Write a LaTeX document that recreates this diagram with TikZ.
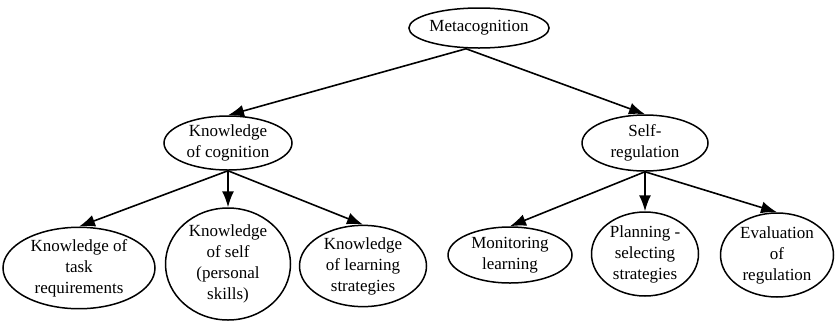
\documentclass[tikz,border=0pt]{standalone}
\usepackage{fontspec}
\setmainfont{Liberation Serif}
\usetikzlibrary{shapes.geometric,arrows.meta}
\begin{document}
\begin{tikzpicture}[x=1pt,y=-1pt,
  bubble/.style={ellipse,draw,line width=1.5pt,inner sep=0pt,align=center,
    font=\fontsize{17}{21}\selectfont},
  link/.style={line width=1.6pt,-{Latex[length=16pt,width=12pt]}}]
\useasboundingbox (0,0) rectangle (837,322);

% top level
\node[bubble,minimum width=134pt,minimum height=40pt] (meta) at (479,28) {Metacognition};

% second level
\node[bubble,minimum width=128pt,minimum height=54pt] (kc) at (228,143) {Knowledge\\of cognition};
\node[bubble,minimum width=126pt,minimum height=56pt] (sr) at (645,143) {Self-\\regulation};

% third level, knowledge branch
\node[bubble,minimum width=152pt,minimum height=80pt] (task) at (79,268) {Knowledge of\\task\\requirements};
\node[bubble,minimum width=125pt,minimum height=112pt] (self) at (228,264) {Knowledge\\of self\\(personal\\skills)};
\node[bubble,minimum width=127pt,minimum height=76pt] (learn) at (363,266) {Knowledge\\of learning\\strategies};

% third level, regulation branch
\node[bubble,minimum width=124pt,minimum height=56pt] (mon) at (510,255) {Monitoring\\learning};
\node[bubble,minimum width=107pt,minimum height=84pt] (plan) at (645,254) {Planning -\\selecting\\strategies};
\node[bubble,minimum width=113pt,minimum height=84pt] (eval) at (777,255) {Evaluation\\of\\regulation};

% connectors
\coordinate (mfoot) at ([xshift=-13pt]meta.south);
\draw[link] (mfoot) -- (kc.north);
\draw[link] (mfoot) -- (sr.north);

\draw[link] (kc.south) -- (task.north);
\draw[link] (kc.south) -- (self.north);
\draw[link] (kc.south) -- (learn.north);

\draw[link] (sr.south) -- (mon.north);
\draw[link] (sr.south) -- (plan.north);
\draw[link] (sr.south) -- (eval.north);
\end{tikzpicture}
\end{document}
